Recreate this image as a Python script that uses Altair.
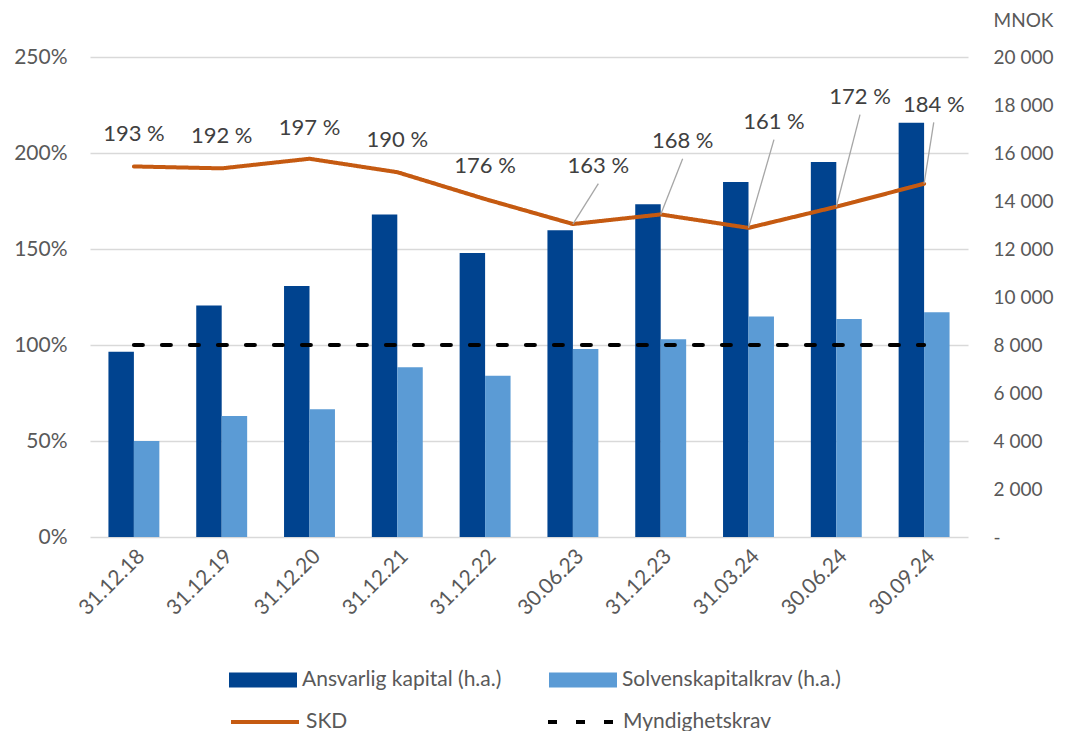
import altair as alt
import pandas as pd

# ---------------- data ----------------
categories = ["31.12.18", "31.12.19", "31.12.20", "31.12.21", "31.12.22",
              "30.06.23", "31.12.23", "31.03.24", "30.06.24", "30.09.24"]
ansvarlig_kapital = [7720, 9650, 10460, 13440, 11830, 12780, 13860, 14790, 15620, 17260]
solvenskapitalkrav = [4000, 5040, 5320, 7070, 6720, 7830, 8240, 9190, 9080, 9360]
skd = [193, 192, 197, 190, 176, 163, 168, 161, 172, 184]
myndighetskrav = [100, 100, 100, 100, 100, 100, 100, 100, 100, 100]

bar_series = ["Ansvarlig kapital (h.a.)", "Solvenskapitalkrav (h.a.)"]
line_series = ["SKD", "Myndighetskrav"]

# label placement (styling): shift in category units and in %-points
label_shift_x = [0, 0, 0, 0, 0, 0.29, 0.25, 0.29, 0.27, 0.11]
label_shift_y = [17, 17, 16, 17, 17, 30, 38, 55, 57, 41]
has_leader = [False, False, False, False, False, True, True, True, True, True]

FONT = "Lato"
GREY = "#595959"
FS = 21

bars_df = pd.DataFrame({
    "Dato": categories * 2,
    "Serie": [bar_series[0]] * len(categories) + [bar_series[1]] * len(categories),
    "MNOK": ansvarlig_kapital + solvenskapitalkrav,
})
lines_df = pd.DataFrame({
    "Dato": categories * 2,
    "Serie": [line_series[0]] * len(categories) + [line_series[1]] * len(categories),
    "Pct": skd + myndighetskrav,
})
labels_df = pd.DataFrame({
    "idx": list(range(len(categories))),
    "skd": skd,
    "sx": label_shift_x,
    "sy": label_shift_y,
    "leader": has_leader,
})

band_scale = alt.Scale(domain=categories, paddingInner=0.42, paddingOuter=0.21)
pct_scale = alt.Scale(domain=[0, 250], nice=False, zero=True)
idx_scale = alt.Scale(domain=[-0.5, len(categories) - 0.5], nice=False, zero=False)

bars = alt.Chart(bars_df).mark_bar().encode(
    x=alt.X("Dato:N", sort=categories, scale=band_scale,
            axis=alt.Axis(title=None, labelAngle=-45, labelFontSize=FS, labelColor=GREY,
                          labelFont=FONT, ticks=False, domain=False, labelPadding=8)),
    xOffset=alt.XOffset("Serie:N", sort=bar_series,
                        scale=alt.Scale(domain=bar_series, paddingInner=0, paddingOuter=0)),
    y=alt.Y("MNOK:Q", scale=alt.Scale(domain=[0, 20000], nice=False),
            axis=alt.Axis(orient="right", values=list(range(0, 20001, 2000)),
                          labelExpr="datum.value == 0 ? '-' : replace(format(datum.value, ','), ',', ' ')",
                          grid=False, ticks=False, domain=False, labelFontSize=19,
                          labelColor=GREY, labelFont=FONT, labelPadding=25, labelAlign="left",
                          title="MNOK", titleAngle=0, titleFont=FONT, titleFontSize=19,
                          titleFontWeight="normal", titleColor=GREY, titleAlign="left",
                          titleBaseline="middle", titleX=25, titleY=-37)),
    color=alt.Color("Serie:N", sort=bar_series,
                    scale=alt.Scale(domain=bar_series, range=["#00438F", "#5B9BD5"]),
                    legend=alt.Legend(title=None, orient="none", direction="horizontal",
                                      legendX=139, legendY=589, columnPadding=47,
                                      symbolType="M-1,-0.22H1V0.22H-1Z", symbolSize=4624,
                                      symbolStrokeWidth=0, labelFontSize=FS, labelFont=FONT,
                                      labelColor=GREY, labelOffset=5, labelLimit=500,
                                      padding=0)),
)

line_legend = alt.Legend(title=None, orient="none", direction="horizontal",
                         legendX=139, legendY=629, columnPadding=192,
                         symbolType="stroke", symbolSize=4624, symbolStrokeWidth=4,
                         labelFontSize=FS, labelFont=FONT, labelColor=GREY,
                         labelOffset=5, labelLimit=500, padding=0)

lines = alt.Chart(lines_df).mark_line(strokeWidth=4, strokeCap="round", strokeJoin="round").encode(
    x=alt.X("Dato:N", sort=categories, scale=band_scale, axis=None),
    y=alt.Y("Pct:Q", scale=pct_scale,
            axis=alt.Axis(orient="left", values=[0, 50, 100, 150, 200, 250],
                          labelExpr="datum.value + '%'", grid=True, gridColor="#D9D9D9",
                          gridWidth=1.5, ticks=False, domain=False, labelFontSize=FS,
                          labelColor=GREY, labelFont=FONT, labelPadding=23, title=None)),
    stroke=alt.Stroke("Serie:N", sort=line_series,
                      scale=alt.Scale(domain=line_series, range=["#C55A11", "#000000"]),
                      legend=line_legend),
    strokeDash=alt.StrokeDash("Serie:N", sort=line_series,
                              scale=alt.Scale(domain=line_series, range=[[1, 0], [9, 19]]),
                              legend=line_legend),
)

base_lab = alt.Chart(labels_df).transform_calculate(
    lx="datum.idx + datum.sx",
    ly="datum.skd + datum.sy",
    ly0="datum.skd + datum.sy - 9",
    txt="datum.skd + ' %'",
)

leaders = base_lab.transform_filter("datum.leader").mark_rule(
    color="#A6A6A6", strokeWidth=1.3).encode(
    x=alt.X("lx:Q", scale=idx_scale, axis=None),
    x2=alt.X2("idx:Q"),
    y=alt.Y("ly0:Q", scale=pct_scale, axis=None),
    y2=alt.Y2("skd:Q"),
)

labels = base_lab.mark_text(fontSize=22, font=FONT, color="#404040",
                            align="center", baseline="middle").encode(
    x=alt.X("lx:Q", scale=idx_scale, axis=None),
    y=alt.Y("ly:Q", scale=pct_scale, axis=None),
    text="txt:N",
)

chart = alt.layer(bars, lines, leaders, labels).resolve_scale(
    x="independent", y="independent"
).properties(
    width=878, height=480,
    background="white",
    autosize=alt.AutoSizeParams(type="none"),
    padding={"left": 82, "top": 49, "right": 90, "bottom": 194},
).configure_view(stroke=None)

chart.save("out.html", embed_options={"renderer": "svg", "actions": False})
